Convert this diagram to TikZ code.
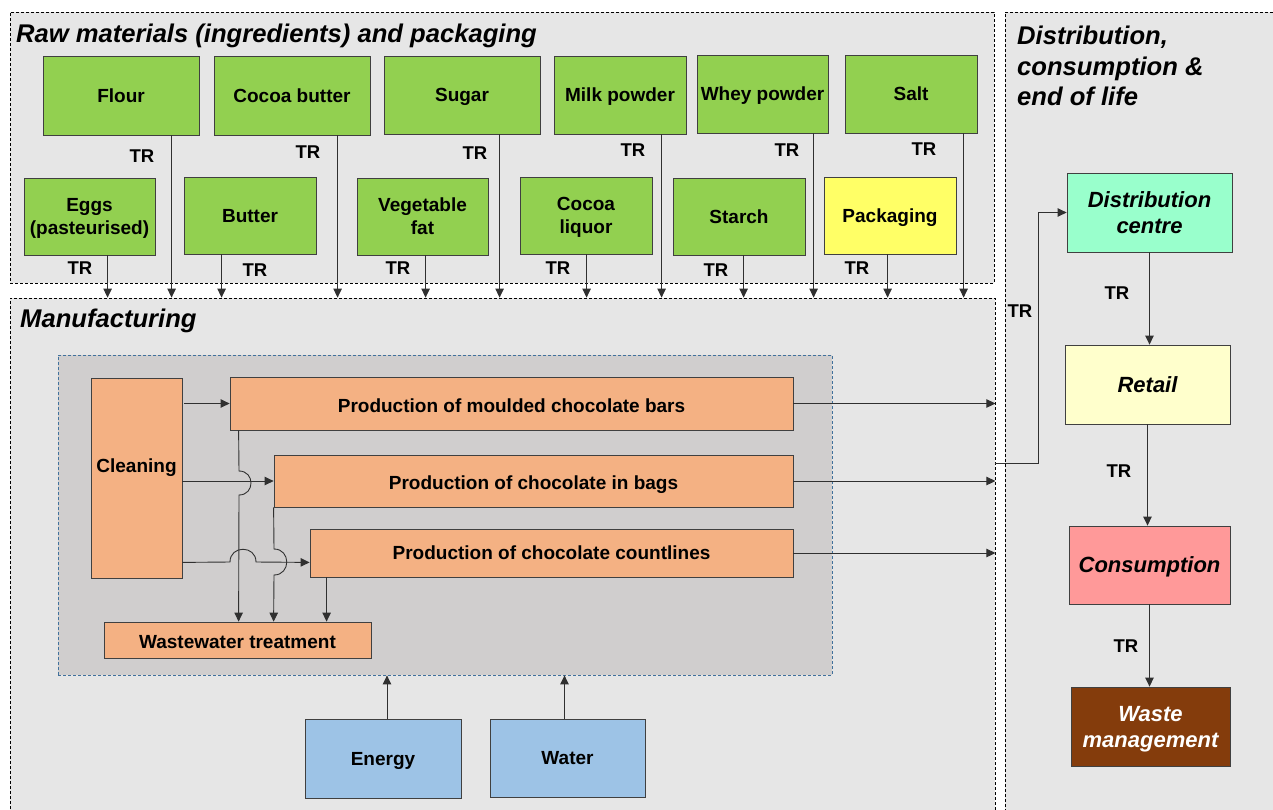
\documentclass[tikz,border=0pt]{standalone}
\usepackage{fontspec}
\setmainfont{Liberation Sans}
\usetikzlibrary{arrows.meta,calc}
\definecolor{bggray}{HTML}{E6E6E6}
\definecolor{innergray}{HTML}{D0CECE}
\definecolor{leaf}{HTML}{92D050}
\definecolor{packyel}{HTML}{FFFF66}
\definecolor{peach}{HTML}{F4B183}
\definecolor{mint}{HTML}{99FFCC}
\definecolor{cream}{HTML}{FFFFCC}
\definecolor{rose}{HTML}{FF9999}
\definecolor{wbrown}{HTML}{843C0C}
\definecolor{skyblue}{HTML}{9DC3E6}
\definecolor{dashblue}{HTML}{41719C}
\definecolor{edgegray}{HTML}{404040}
\definecolor{arrgray}{HTML}{303030}

\tikzset{
  box/.style={draw=edgegray, line width=0.8pt, inner sep=0pt, align=center, text depth=0pt,
    font=\fontsize{19}{23}\selectfont\bfseries},
  ibox/.style={box, font=\fontsize{22}{26}\selectfont\bfseries\itshape},
  region/.style={draw=black, dash pattern=on 3pt off 2pt, fill=bggray, line width=0.8pt, inner sep=0pt},
  innerregion/.style={draw=dashblue, dash pattern=on 3pt off 2pt, fill=innergray, line width=0.8pt, inner sep=0pt},
  rtitle/.style={font=\fontsize{25.6}{30.5}\selectfont\bfseries\itshape, anchor=west, inner sep=0pt, align=left},
  trlabel/.style={font=\fontsize{18.5}{20}\selectfont\bfseries, inner sep=0pt},
  arr/.style={draw=arrgray, line width=0.9pt, -{Triangle[length=9pt,width=8.5pt]}},
}

% \mkbox{name}{style}{x1}{y1}{x2}{y2}{text}
\newcommand\mkbox[7]{%
  \node[#2, minimum width={(#5)-(#3)}, minimum height={(#6)-(#4)}]
    (#1) at ({((#3)+(#5))/2},{((#4)+(#6))/2}) {#7};}
\newcommand\shifttext[2]{\raisebox{#1}[\height][\depth]{#2}}

\begin{document}
\begin{tikzpicture}[x=1pt, y=-1pt]
\clip (0,0) rectangle (1273,809);
\fill[white] (0,0) rectangle (1273,809);

% regions
\mkbox{raw}{region}{10}{12}{994}{283}{}
\mkbox{mfg}{region}{10}{298}{995}{840}{}
\mkbox{dist}{region}{1005}{12}{1290}{840}{}
\mkbox{inner}{innerregion}{58}{355}{832}{675}{}

% titles
\node[rtitle] (t1) at (16,36) {Raw materials (ingredients) and packaging};
\node[rtitle] (t2) at (20,321) {Manufacturing};
\node[rtitle] (t3) at (1017,66) {Distribution,\\consumption \&\\end of life};

% raw materials
\mkbox{flour}{box,fill=leaf}{43}{56}{199}{135}{Flour}
\mkbox{cbutter}{box,fill=leaf}{214}{56}{370}{135}{Cocoa butter}
\mkbox{sugar}{box,fill=leaf}{384}{56}{540}{134}{Sugar}
\mkbox{milk}{box,fill=leaf}{554}{56}{686}{134}{Milk powder}
\mkbox{whey}{box,fill=leaf}{697}{55}{828}{133}{Whey powder}
\mkbox{salt}{box,fill=leaf}{845}{55}{977}{133}{Salt}
\mkbox{eggs}{box,fill=leaf}{24}{178}{155}{255}{Eggs\\(pasteurised)}
\mkbox{butter}{box,fill=leaf}{184}{177}{316}{254}{Butter}
\mkbox{vegfat}{box,fill=leaf}{357}{178}{488}{255}{Vegetable\\fat}
\mkbox{cliquor}{box,fill=leaf}{520}{177}{652}{254}{Cocoa\\liquor}
\mkbox{starch}{box,fill=leaf}{673}{178}{805}{255}{Starch}
\mkbox{pack}{box,fill=packyel}{824}{177}{956}{254}{Packaging}

\foreach \n/\dx in {flour/129, cbutter/124, sugar/116, milk/108, whey/117, salt/119,
                    eggs/84, butter/38, vegfat/69, cliquor/67, starch/71, pack/64} {
  \coordinate (s-\n) at ([xshift=\dx pt]\n.south west);
  \draw[arr] (s-\n) -- (s-\n |- mfg.north);
}

\foreach \x/\y [count=\i] in {142/156, 308/152, 475/153, 633/150, 787/150, 924/149,
                   80/268, 255/270, 398/268, 558/268, 716/270, 857/268} {
  \node[trlabel] (tr\i) at (\x,\y) {TR};
}

% manufacturing
\mkbox{clean}{box,fill=peach}{91}{378}{182}{578}{\shifttext{12pt}{Cleaning}}
\mkbox{moulded}{box,fill=peach}{230}{377}{793}{430}{\shifttext{-2pt}{Production of moulded chocolate bars}}
\mkbox{bags}{box,fill=peach}{274}{455}{793}{507}{\shifttext{-2pt}{Production of chocolate in bags}}
\mkbox{countl}{box,fill=peach}{310}{529}{793}{577}{Production of chocolate countlines}
\mkbox{wwt}{box,fill=peach}{104}{622}{371}{658}{\shifttext{-2pt}{Wastewater treatment}}
\mkbox{energy}{box,fill=skyblue}{305}{719}{461}{798}{Energy}
\mkbox{water}{box,fill=skyblue}{490}{719}{645}{797}{Water}

\draw[arr] ([xshift=2pt]clean.east |- moulded.west) -- (moulded.west);
\draw[arr] (clean.east |- bags.west) -- (bags.west);
\coordinate (c3) at ([yshift=16pt]clean.south east);
\draw[arr] (c3) -- (230,562) .. controls (230,545) and (256,545) .. (256,562) -- (c3 -| countl.west);

\coordinate (a1) at ([xshift=9pt]moulded.south west);
\draw[arr] (a1) -- (239,471) .. controls (255,471) and (255,495) .. (239,495) -- (a1 |- wwt.north);
\coordinate (a2) at (bags.south west);
\draw[arr] (a2) -- (274,549) .. controls (291,549) and (291,575) .. (274,575) -- (a2 |- wwt.north);
\coordinate (a3) at ([xshift=17pt]countl.south west);
\draw[arr] (a3) -- (a3 |- wwt.north);

\draw[arr] ([xshift=4pt]energy.north) -- ([xshift=4pt]energy.north |- inner.south);
\draw[arr] ([xshift=-3pt]water.north) -- ([xshift=-3pt]water.north |- inner.south);

\draw[arr] (moulded.east) -- (moulded.east -| mfg.east);
\draw[arr] (bags.east) -- (bags.east -| mfg.east);
\draw[arr] (countl.east) -- (countl.east -| mfg.east);

% distribution
\mkbox{dc}{ibox,fill=mint}{1067}{173}{1232}{252}{Distribution\\centre}
\mkbox{retail}{ibox,fill=cream}{1065}{345}{1230}{424}{Retail}
\mkbox{cons}{ibox,fill=rose}{1069}{526}{1230}{604}{Consumption}
\mkbox{waste}{ibox,fill=wbrown,text=white}{1071}{687}{1230}{766}{Waste\\management}

\coordinate (trs) at (995,463);
\draw[arr] (trs) -- ++(43,0) |- (dc.west);
\draw[arr] (dc.south) -- (dc.south |- retail.north);
\draw[arr] (retail.south) -- (retail.south |- cons.north);
\draw[arr] (cons.south) -- (cons.south |- waste.north);

\node[trlabel] (tr13) at (1020,311) {TR};
\node[trlabel] (tr14) at (1117,293) {TR};
\node[trlabel] (tr15) at (1119,471) {TR};
\node[trlabel] (tr16) at (1126,646) {TR};
\end{tikzpicture}
\end{document}
